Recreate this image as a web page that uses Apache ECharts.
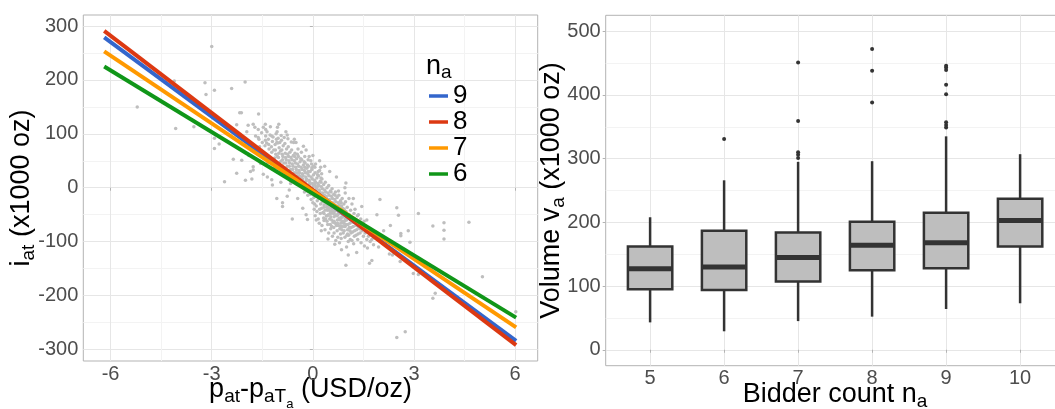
<!DOCTYPE html>
<html>
<head>
<meta charset="utf-8">
<script src="https://cdn.jsdelivr.net/npm/echarts@6/dist/echarts.min.js"></script>
<style>
html, body { margin: 0; padding: 0; background: #fff; }
#chart { width: 1055px; height: 409px; }
</style>
</head>
<body>
<div id="chart"></div>
<script>
// ---- left panel: price deviation vs. imbalance ----
const scatterPoints = [
    // far points
    [-5.21, 150], [-4.11, 198], [-4.07, 110], [-3.53, 113], [-3.2, 195], [-3.17, 173], [-3.0, 262],
    [-2.92, 181], [-2.92, 92], [-2.92, 73], [-2.78, 81], [-2.62, 11], [-2.41, 184], [-2.36, 53],
    [-2.26, 117], [-2.26, 27], [-2.17, 139], [-2.12, 139], [-2.11, 51], [-2.01, 196], [-2.0, 14],
    [-1.96, 104], [-1.92, 116], [-1.81, 16], [-1.77, 118], [-1.77, 39], [-1.77, 33], [-1.62, 93],
    [-1.61, 137], [-1.47, 25], [-1.41, 118], [-1.4, 108], [-1.22, 96], [-1.01, 118], [-0.76, 98],
    [-1.37, 83], [-1.07, 84], [-0.5, 84], [-0.28, 77], [-1.22, 15],
    [-1.07, -20], [-0.9, -28], [-0.9, -35], [-0.76, -16], [-0.61, -58], [-0.16, -59], [0.98, 9],
    [0.23, 38], [-0.03, 37], [0.33, -61], [0.56, -72], [0.86, -72],
    [1.99, -22], [2.49, -37], [2.54, -51], [3.13, -48], [3.56, -71], [3.89, -65], [3.89, -79],
    [3.89, -95], [4.63, -64], [2.83, -80], [2.61, -85], [2.61, -89], [2.88, -101], [2.27, -123],
    [2.36, -125], [1.68, -140], [0.98, -144], [2.59, -137], [2.98, -159], [3.13, -161], [3.63, -196],
    [3.56, -205], [5.03, -165], [2.49, -278], [2.74, -267], [6.02, -230],
    // halo round the cloud
    [-1.9, 60], [-1.85, 30], [-1.55, 45], [-1.35, 20], [-1.2, 5], [-0.95, 10], [-0.7, -4], [-0.45, -20],
    [-0.3, -38], [-0.2, -50], [0.1, -60], [0.25, -80], [0.45, -95], [0.65, -105], [0.85, -115],
    [1.05, -125], [1.3, -120], [1.6, -60], [1.9, -50], [2.1, -80], [2.2, -100], [1.95, -110], [2.3, -70],
    [1.75, -135], [0.2, 50], [0.5, 30], [0.7, 20], [0.95, 0], [1.2, -20], [1.45, -35], [-0.55, 90],
    [-0.8, 104], [-1.05, 112], [-0.2, 70], [0.0, 60], [0.35, 40],
    // dense cloud
    [-1.7, 96], [-1.72, 112], [-1.6, 90], [-1.62, 108], [-1.58, 76], [-1.5, 84], [-1.52, 102], [-1.48, 66],
    [-1.47, 112], [-1.4, 96], [-1.42, 78], [-1.38, 60], [-1.41, 88], [-1.36, 104], [-1.3, 72], [-1.32, 90],
    [-1.28, 56], [-1.27, 98], [-1.31, 80], [-1.2, 86], [-1.22, 66], [-1.18, 94], [-1.19, 50], [-1.23, 76],
    [-1.16, 70], [-1.1, 62], [-1.12, 80], [-1.08, 90], [-1.07, 46], [-1.11, 70], [-1.05, 58], [-1.09, 100],
    [-1.0, 74], [-1.02, 56], [-0.98, 84], [-0.97, 40], [-1.01, 64], [-0.96, 68], [-1.03, 92],
    [-0.9, 52], [-0.92, 70], [-0.88, 78], [-0.87, 36], [-0.91, 62], [-0.86, 46], [-0.93, 88], [-0.89, 58],
    [-0.8, 46], [-0.82, 64], [-0.78, 72], [-0.77, 30], [-0.81, 56], [-0.76, 40], [-0.83, 82], [-0.79, 52],
    [-0.7, 40], [-0.72, 58], [-0.68, 66], [-0.67, 24], [-0.71, 50], [-0.66, 34], [-0.73, 76], [-0.69, 46], [-0.65, 56],
    [-0.6, 34], [-0.62, 52], [-0.58, 60], [-0.57, 18], [-0.61, 44], [-0.56, 28], [-0.63, 70], [-0.59, 40], [-0.55, 50],
    [-0.5, 28], [-0.52, 46], [-0.48, 54], [-0.47, 12], [-0.51, 38], [-0.46, 22], [-0.53, 64], [-0.49, 34], [-0.45, 44],
    [-0.4, 22], [-0.42, 40], [-0.38, 48], [-0.37, 6], [-0.41, 32], [-0.36, 16], [-0.43, 58], [-0.39, 28], [-0.35, 38],
    [-0.3, 16], [-0.32, 34], [-0.28, 42], [-0.27, 0], [-0.31, 26], [-0.26, 10], [-0.33, 52], [-0.29, 22], [-0.25, 32],
    [-0.2, 12], [-0.22, 28], [-0.18, 36], [-0.17, -6], [-0.21, 20], [-0.16, 4], [-0.23, 46], [-0.19, 16], [-0.15, 26],
    [-0.1, 6], [-0.12, 22], [-0.08, 30], [-0.07, -12], [-0.11, 14], [-0.06, -2], [-0.13, 40], [-0.09, 10], [-0.05, 20],
    [0.0, 0], [-0.02, 16], [0.02, 24], [0.03, -18], [-0.01, 8], [0.04, -8], [-0.03, 34], [0.01, 4], [0.05, 14], [0.0, -28],
    [0.1, -6], [0.08, 10], [0.12, 18], [0.13, -24], [0.09, 2], [0.14, -14], [0.07, 28], [0.11, -2], [0.15, 8], [0.1, -34],
    [0.2, -12], [0.18, 4], [0.22, 12], [0.23, -30], [0.19, -4], [0.24, -20], [0.17, 22], [0.21, -8], [0.25, 2], [0.2, -40], [0.22, -48],
    [0.3, -18], [0.28, -2], [0.32, 6], [0.33, -36], [0.29, -10], [0.34, -26], [0.27, 16], [0.31, -14], [0.35, -4], [0.3, -46], [0.32, -56],
    [0.4, -24], [0.38, -8], [0.42, 0], [0.43, -42], [0.39, -16], [0.44, -32], [0.37, 10], [0.41, -20], [0.45, -10], [0.4, -52], [0.42, -62],
    [0.5, -30], [0.48, -14], [0.52, -6], [0.53, -48], [0.49, -22], [0.54, -38], [0.47, 4], [0.51, -26], [0.55, -16], [0.5, -58], [0.52, -68],
    [0.6, -36], [0.58, -20], [0.62, -12], [0.63, -54], [0.59, -28], [0.64, -44], [0.57, -2], [0.61, -32], [0.65, -22], [0.6, -64], [0.62, -74],
    [0.7, -42], [0.68, -26], [0.72, -18], [0.73, -60], [0.69, -34], [0.74, -50], [0.67, -8], [0.71, -38], [0.75, -28], [0.7, -70], [0.72, -80],
    [0.8, -48], [0.78, -32], [0.82, -24], [0.83, -66], [0.79, -40], [0.84, -56], [0.77, -14], [0.81, -44], [0.85, -34], [0.8, -76], [0.82, -86],
    [0.9, -54], [0.88, -38], [0.92, -30], [0.93, -72], [0.89, -46], [0.94, -62], [0.87, -20], [0.91, -50], [0.95, -92],
    [1.0, -60], [0.98, -44], [1.02, -36], [1.03, -78], [0.99, -52], [1.04, -68], [0.97, -26], [1.01, -88], [1.05, -100],
    [1.1, -66], [1.08, -50], [1.12, -42], [1.13, -84], [1.09, -58], [1.14, -74], [1.11, -96],
    [1.2, -72], [1.18, -56], [1.22, -48], [1.23, -90], [1.19, -64], [1.24, -80], [1.21, -104],
    [1.3, -78], [1.28, -60], [1.32, -52], [1.33, -96], [1.29, -70], [1.34, -86],
    [1.4, -84], [1.38, -66], [1.42, -58], [1.43, -102], [1.39, -76],
    [1.5, -90], [1.48, -70], [1.52, -62], [1.53, -108], [1.6, -96], [1.58, -76], [1.62, -112],
    [1.7, -100], [1.68, -82], [1.8, -106], [1.85, -88],
    // more of the upper lobe
    [-1.34, 47], [-1.26, 113], [-1.14, 36], [-1.06, 104], [-0.99, 27], [-0.94, 97], [-0.84, 22], [-0.74, 91],
    [-0.64, 12], [-0.57, 84], [-0.44, 72], [-0.34, 66], [-0.24, 58], [-0.14, 52], [-1.13, 55], [-1.04, 83],
    [-0.95, 49], [-0.85, 93], [-0.75, 62], [-0.64, 85], [-0.54, 58], [-0.44, 28], [-0.34, 20], [-0.24, 38],
    [-0.14, 30], [-0.04, 44], [0.06, 38], [0.16, 30], [0.26, 26], [-0.46, 62], [-0.36, 54], [-0.26, 48],
    [-0.16, 42], [-0.06, 50], [-0.74, 18], [-0.66, 8],
    // more of the core
    [0.04, -40], [0.07, -52], [0.12, -44], [0.16, -58], [0.19, -66], [0.26, -38], [0.27, -70], [0.33, -48],
    [0.36, -78], [0.38, -58], [0.44, -68], [0.46, -50], [0.47, -84], [0.53, -76], [0.56, -60], [0.58, -90],
    [0.63, -84], [0.66, -66], [0.68, -98], [0.74, -92], [0.76, -70], [0.79, -102], [0.84, -94], [0.86, -78],
    [0.9, -84], [0.96, -72], [1.0, -110], [1.06, -88], [1.1, -80], [1.16, -98], [1.26, -66], [1.36, -74], [1.46, -80],
    [0.06, 6], [0.13, 2], [0.18, -20], [0.24, 10], [0.28, -26], [0.34, -14], [0.38, -30], [0.44, -22],
    [0.46, -40], [0.54, -8], [0.57, -44], [0.64, -32], [0.66, -14], [0.74, -40], [0.76, -6], [0.84, -28],
    [0.86, -48], [0.93, -40], [0.96, -10], [1.04, -50], [1.07, -20], [1.13, -60], [1.16, -30], [1.25, -40],
    [1.27, -62], [1.35, -50], [1.44, -70], [1.55, -84], [1.65, -90], [1.75, -96],
    [0.31, -24], [0.36, -42], [0.41, -36], [0.46, -30], [0.51, -44], [0.56, -36], [0.61, -48], [0.66, -40],
    [0.71, -52], [0.76, -46], [0.81, -60], [0.86, -54], [0.91, -66], [0.96, -58], [0.33, -32], [0.43, -52],
    [0.53, -54], [0.63, -62], [0.73, -66], [0.83, -72], [0.93, -80], [1.03, -86], [0.38, -20], [0.48, -36],
    [0.58, -42], [0.68, -50], [0.78, -56], [0.88, -62], [0.98, -68], [1.08, -74], [1.18, -82], [1.28, -88],
    [-0.25, -8], [-0.15, -14], [-0.05, -22], [0.05, -30], [-0.27, 4], [-0.18, -2], [-0.04, -6], [0.02, 40],
    [0.08, 44], [-0.11, 58], [0.14, 24], [0.24, 18], [0.2, 32]
];

// fitted lines per bidder count, end points [x, y]
const lineNames = ['9', '8', '7', '6'];
const lineColors = ['#3366CC', '#DC3912', '#FF9900', '#109618'];
const fit9 = [[-6.19, 279], [6.03, -284]];
const fit8 = [[-6.19, 291], [6.03, -292]];
const fit7 = [[-6.19, 253], [6.03, -259]];
const fit6 = [[-6.19, 225], [6.03, -241]];
const fitLines = [fit9, fit8, fit7, fit6];

const leftXTicks = [-6, -3, 0, 3, 6];
const leftXMinor = [-4.5, -1.5, 1.5, 4.5];
const leftYTicks = [-300, -200, -100, 0, 100, 200, 300];
const leftYMinor = [-250, -150, -50, 50, 150, 250];

// ---- right panel: volume by bidder count ----
const bidderCounts = [5, 6, 7, 8, 9, 10];
const boxMin = [43, 29, 45, 52, 64, 73];
const boxQ1 = [95, 94, 107, 125, 128, 162];
const boxMedian = [127, 130, 145, 164, 168, 203];
const boxQ3 = [162, 187, 184, 201, 215, 237];
const boxMax = [208, 266, 295, 296, 335, 307];
const outliers = [
    [6, 331],
    [7, 451], [7, 359], [7, 310], [7, 306], [7, 301],
    [8, 472], [8, 438], [8, 388],
    [9, 446], [9, 443], [9, 439], [9, 416], [9, 401], [9, 357], [9, 353], [9, 349]
];
const rightYTicks = [0, 100, 200, 300, 400, 500];
const rightYMinor = [50, 150, 250, 350, 450];

const boxData = bidderCounts.map((n, i) => [n, boxMin[i], boxQ1[i], boxMedian[i], boxQ3[i], boxMax[i]]);

const FONT = '"Liberation Sans", Arial, sans-serif';
const tickColor = '#4d4d4d';
const borderColor = '#b3b3b3';
const majorGrid = '#e6e6e6';
const minorGrid = '#f3f3f3';

const nameRich = {
    m: { fontSize: 27, lineHeight: 44, color: '#000', fontFamily: FONT },
    s: { fontSize: 19, lineHeight: 19, padding: [14, 0, 0, 0], color: '#000', fontFamily: FONT },
    ss: { fontSize: 13, lineHeight: 13, padding: [28, 0, 0, 0], color: '#000', fontFamily: FONT }
};

function majorAxis(type, grid, min, max, ticks, name, nameGap) {
    return {
        type: 'value', gridIndex: grid, min: min, max: max,
        name: name, nameLocation: 'middle', nameGap: nameGap, nameMoveOverlap: false,
        nameTextStyle: { rich: nameRich },
        axisLine: { show: false },
        axisTick: { show: true, length: 3, customValues: ticks, lineStyle: { color: borderColor } },
        axisLabel: { customValues: ticks, color: tickColor, fontSize: 20, fontFamily: FONT,
            margin: type === 'x' ? 3 : 5 },
        splitLine: { show: true, lineStyle: { color: majorGrid, width: 1 } }
    };
}

function minorAxis(grid, min, max, ticks) {
    return {
        type: 'value', gridIndex: grid, min: min, max: max,
        axisLine: { show: false },
        axisTick: { show: false, customValues: ticks },
        axisLabel: { show: false },
        splitLine: { show: true, lineStyle: { color: minorGrid, width: 1 } }
    };
}

function renderBox(params, api) {
    const x = api.value(0);
    const half = api.size([0.3, 0])[0];
    const lo = api.coord([x, api.value(1)]);
    const q1 = api.coord([x, api.value(2)]);
    const med = api.coord([x, api.value(3)]);
    const q3 = api.coord([x, api.value(4)]);
    const hi = api.coord([x, api.value(5)]);
    const stroke = '#333333';
    return {
        type: 'group',
        children: [
            { type: 'line', shape: { x1: lo[0], y1: lo[1], x2: q1[0], y2: q1[1] }, style: { stroke: stroke, lineWidth: 2.5 } },
            { type: 'line', shape: { x1: q3[0], y1: q3[1], x2: hi[0], y2: hi[1] }, style: { stroke: stroke, lineWidth: 2.5 } },
            { type: 'rect', shape: { x: q1[0] - half, y: q3[1], width: 2 * half, height: q1[1] - q3[1] },
              style: { fill: '#bebebe', stroke: stroke, lineWidth: 2.5 } },
            { type: 'line', shape: { x1: med[0] - half, y1: med[1], x2: med[0] + half, y2: med[1] },
              style: { stroke: stroke, lineWidth: 5 } }
        ]
    };
}

const chart = echarts.init(document.getElementById('chart'), null, { renderer: 'canvas' });

const option = {
    animation: false,
    backgroundColor: '#ffffff',
    textStyle: { fontFamily: FONT },
    title: {
        text: '{n|n}{s|a}',
        left: 426, top: 49, padding: 0,
        textStyle: {
            fontWeight: 'normal',
            rich: {
                n: { fontSize: 27, lineHeight: 36, fontWeight: 'normal', color: '#000', fontFamily: FONT },
                s: { fontSize: 19, lineHeight: 19, fontWeight: 'normal', padding: [12, 0, 0, 0], color: '#000', fontFamily: FONT }
            }
        }
    },
    legend: {
        data: lineNames,
        orient: 'vertical',
        left: 429, top: 83,
        padding: 0,
        itemGap: 0,
        itemWidth: 19, itemHeight: 3.5,
        icon: 'rect',
        textStyle: { fontSize: 26, lineHeight: 24, color: '#000', fontFamily: FONT }
    },
    grid: [
        { left: 83.3, top: 15, width: 454.4, height: 346, show: true, borderColor: borderColor, borderWidth: 1,
          backgroundColor: '#fff', containLabel: false, outerBoundsMode: 'none' },
        { left: 605.7, top: 15.3, width: 458.8, height: 350.4, show: true, borderColor: borderColor, borderWidth: 1,
          backgroundColor: '#fff', containLabel: false, outerBoundsMode: 'none' }
    ],
    xAxis: [
        majorAxis('x', 0, -6.81, 6.67, leftXTicks,
            '{m|p}{s|at}{m|-p}{s|aT}{ss|a}{m| (USD/oz)}', 7),
        majorAxis('x', 1, 4.4, 10.6, bidderCounts, '{m|Bidder count n}{s|a}', 7),
        minorAxis(0, -6.81, 6.67, leftXMinor)
    ],
    yAxis: [
        majorAxis('y', 0, -321.5, 320.5, leftYTicks, '{m|i}{s|at}{m| (x1000 oz)}', 40),
        majorAxis('y', 1, -25, 525, rightYTicks, '{m|Volume v}{s|a}{m| (x1000 oz)}', 32),
        minorAxis(0, -321.5, 320.5, leftYMinor),
        minorAxis(1, -25, 525, rightYMinor)
    ],
    series: [
        {
            type: 'scatter', xAxisIndex: 0, yAxisIndex: 0,
            data: scatterPoints, symbolSize: 3.5, silent: true,
            itemStyle: { color: '#bebebe', opacity: 1 }
        }
    ].concat(fitLines.map((pts, i) => ({
        type: 'line', name: lineNames[i], xAxisIndex: 0, yAxisIndex: 0,
        data: pts, showSymbol: false, symbol: 'none', silent: true,
        itemStyle: { color: lineColors[i] },
        lineStyle: { color: lineColors[i], width: 4 }
    }))).concat([
        {
            type: 'custom', xAxisIndex: 1, yAxisIndex: 1,
            data: boxData, renderItem: renderBox,
            encode: { x: 0, y: [1, 2, 3, 4, 5] }, silent: true
        },
        {
            type: 'scatter', xAxisIndex: 1, yAxisIndex: 1,
            data: outliers, symbolSize: 4, silent: true,
            itemStyle: { color: '#333333', opacity: 1 }
        }
    ])
};

chart.setOption(option);
</script>
</body>
</html>
